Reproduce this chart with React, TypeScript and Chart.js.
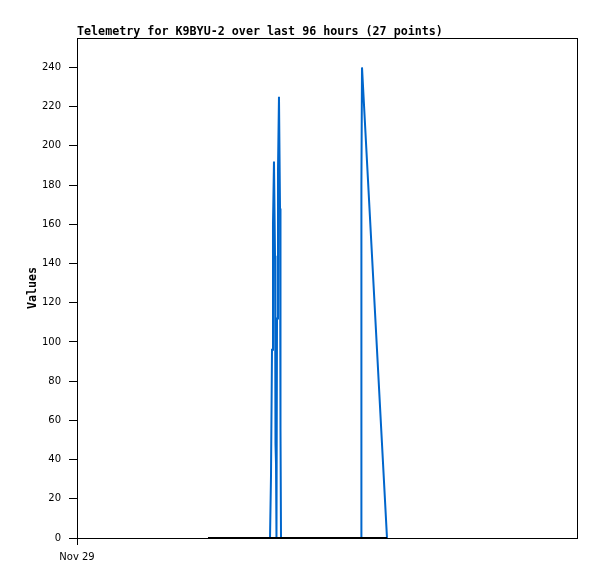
import React, { useEffect, useRef } from "react";
import { Chart, registerables } from "chart.js";

Chart.register(...registerables);

const chartTitle = "Telemetry for K9BYU-2 over last 96 hours (27 points)";
const yAxisTitle = "Values";
const xTickLabel = "Nov 29";
const yTicks = [0, 20, 40, 60, 80, 100, 120, 140, 160, 180, 200, 220, 240];

// hours since start of the 96 hour window
const blueHours = [
  25.15, 37.06, 37.25, 37.44, 37.63, 37.82, 38.02, 38.11, 38.21, 38.3, 38.4,
  38.59, 38.78, 38.98, 39.07, 39.17, 54.53, 54.57, 54.64, 54.72, 59.52,
];
const blueValues = [
  0, 0, 32, 96, 160, 192, 144, 48, 38, 0, 112, 187, 225, 168, 56, 0, 0, 60,
  180, 240, 0,
];
const baseHours = [25.15, 59.52];
const baseValues = [0, 0];

export default function App() {
  const ref = useRef<HTMLCanvasElement | null>(null);

  useEffect(() => {
    document.body.style.margin = "0";
    const canvas = ref.current;
    if (!canvas) return;

    const framePlugin = {
      id: "frame",
      afterDraw(chart: any) {
        const { ctx, chartArea } = chart;
        ctx.save();
        ctx.strokeStyle = "#000";
        ctx.lineWidth = 1;
        ctx.strokeRect(
          Math.round(chartArea.left) + 0.5,
          Math.round(chartArea.top) + 0.5,
          Math.round(chartArea.right - chartArea.left),
          Math.round(chartArea.bottom - chartArea.top)
        );
        ctx.fillStyle = "#000";
        ctx.font = "bold 11.7px 'DejaVu Sans Mono'";
        ctx.textAlign = "left";
        ctx.textBaseline = "alphabetic";
        ctx.fillText(chartTitle, chartArea.left, 35);
        ctx.translate(36, (chartArea.top + chartArea.bottom) / 2);
        ctx.rotate(-Math.PI / 2);
        ctx.textAlign = "center";
        ctx.fillText(yAxisTitle, 0, 0);
        ctx.restore();
      },
    };

    const chart = new Chart(canvas, {
      type: "line",
      data: {
        datasets: [
          {
            label: "base",
            data: baseHours.map((h, i) => ({ x: h, y: baseValues[i] })),
            borderColor: "#000000",
            borderWidth: 2,
            pointRadius: 0,
            order: 0,
          },
          {
            label: "values",
            data: blueHours.map((h, i) => ({ x: h, y: blueValues[i] })),
            borderColor: "rgb(0,102,204)",
            borderWidth: 2,
            pointRadius: 0,
            order: 1,
          },
        ],
      },
      plugins: [framePlugin],
      options: {
        responsive: false,
        animation: false,
        layout: { padding: { top: 38, right: 20, left: 0, bottom: 0 } },
        plugins: {
          legend: { display: false },
          title: { display: false },
          tooltip: { enabled: false },
        },
        scales: {
          x: {
            type: "linear",
            min: 0,
            max: 96,
            afterBuildTicks: (scale: any) => {
              scale.ticks = [{ value: 0 }];
            },
            afterFit: (scale: any) => {
              scale.height = 41;
            },
            ticks: {
              callback: () => xTickLabel,
              color: "#000",
              font: { family: "DejaVu Sans", size: 10 },
              padding: 6,
              maxRotation: 0,
              autoSkip: false,
            },
            grid: {
              drawOnChartArea: false,
              tickLength: 7,
              color: "#000",
            },
            border: { color: "#000", width: 1 },
          },
          y: {
            type: "linear",
            min: 0,
            max: 255,
            afterBuildTicks: (scale: any) => {
              scale.ticks = yTicks.map((v) => ({ value: v }));
            },
            afterFit: (scale: any) => {
              scale.width = 77;
            },
            ticks: {
              color: "#000",
              font: { family: "DejaVu Sans", size: 10 },
              padding: 8,
              autoSkip: false,
            },
            grid: {
              drawOnChartArea: false,
              tickLength: 8,
              color: "#000",
            },
            border: { color: "#000", width: 1 },
          },
        },
      },
    });
    return () => chart.destroy();
  }, []);

  return (
    <canvas
      ref={ref}
      width={597}
      height={579}
      style={{ display: "block", width: 597, height: 579 }}
    />
  );
}
